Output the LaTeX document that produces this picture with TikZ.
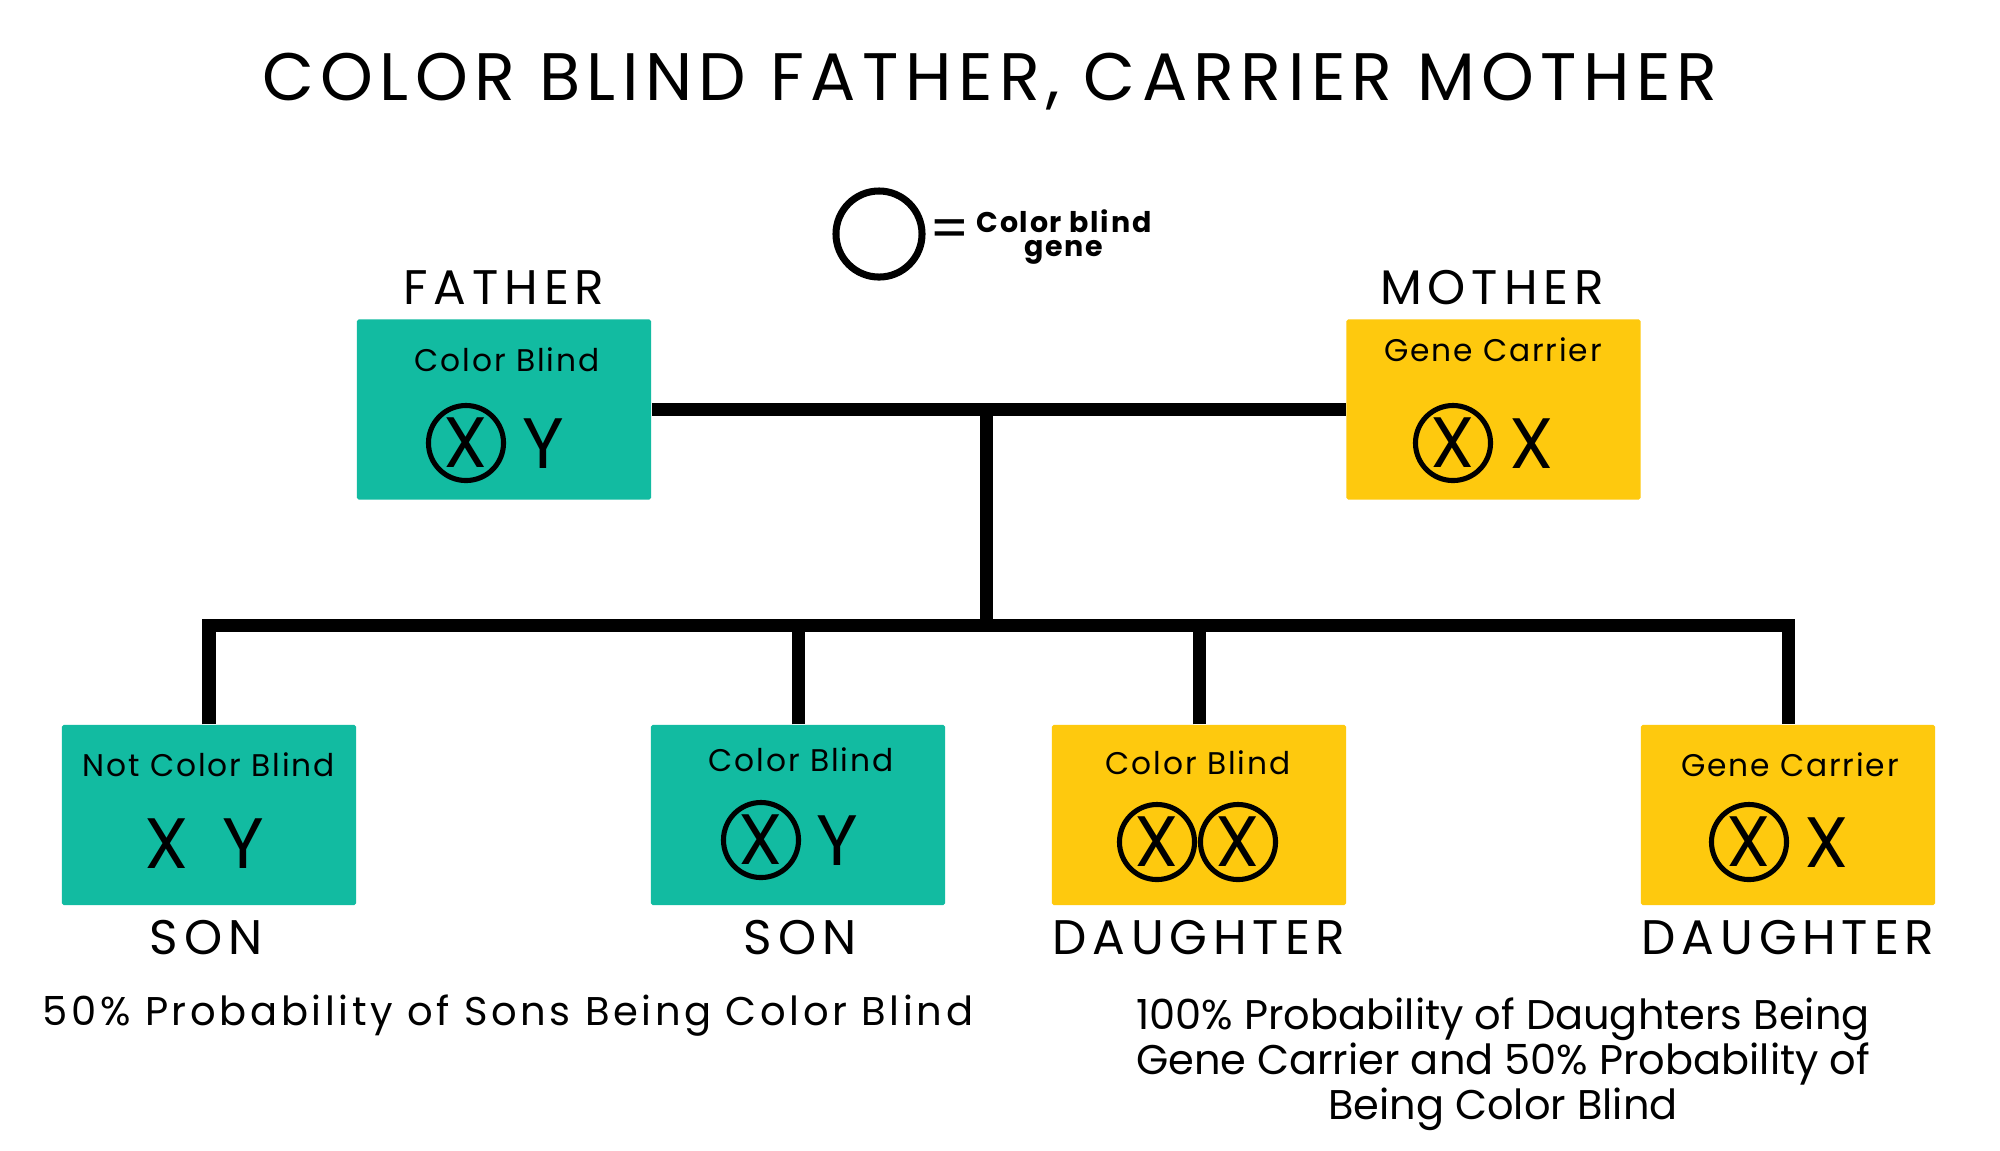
\documentclass[tikz,border=0pt]{standalone}
\usepackage{fontspec}
\setmainfont{Poppins}
\newfontfamily\spaced{Poppins}[LetterSpace=6]
\usetikzlibrary{positioning}

\definecolor{boxteal}{RGB}{18,187,161}
\definecolor{boxgold}{RGB}{254,201,14}

\newcommand\titlefont{\spaced\addfontfeature{LetterSpace=9.5}\fontsize{19.1}{23}\selectfont}
\newcommand\rolefont{\spaced\addfontfeature{LetterSpace=12}\fontsize{13.8}{16}\selectfont}
\newcommand\boxfont{\spaced\fontsize{8.9}{11}\selectfont}
\newcommand\genefont{\fontsize{20.3}{24}\selectfont}
\newcommand\notefont{\spaced\addfontfeature{LetterSpace=9}\fontsize{11.4}{14}\selectfont}

\begin{document}
\begin{tikzpicture}[x=0.01cm, y=-0.01cm,
	link/.style={line width=3.7pt},
	parent/.style={rectangle, rounded corners=0.5pt, minimum width=2.94cm, minimum height=1.8cm, inner sep=0pt},
	male/.style={parent, fill=boxteal},
	female/.style={parent, fill=boxgold},
	gene/.style={circle, draw, line width=1.45pt, minimum size=0.75cm, inner sep=0pt, font=\genefont},
	allele/.style={anchor=base, inner sep=0pt, font=\genefont},
	role/.style={anchor=base, inner sep=0pt, font=\rolefont},
	state/.style={anchor=base, inner sep=0pt, font=\boxfont},
	note/.style={anchor=base, inner sep=0pt, font=\notefont}]
	\fill[white] (0,0) rectangle (2000,1150);
	\useasboundingbox (0,0) rectangle (2000,1150);

	\node[anchor=base, inner sep=0pt, font=\titlefont] (title) at (990,100) {COLOR BLIND FATHER, CARRIER MOTHER};

	% legend
	\node[circle, draw, line width=2pt, minimum size=0.86cm] (key) at (879,234) {};
	\node[anchor=base, inner sep=0pt, font=\fontsize{16}{16}\selectfont] (eq) at (950,248) {=};
	\node[anchor=base, inner sep=0pt, align=center, font=\bfseries\spaced\fontsize{8.1}{6.6}\selectfont] (keytext) at (1064,256) {Color blind\\gene};

	% parents
	\node[role] (fl) at (504,304) {FATHER};
	\node[role] (ml) at (1492,304) {MOTHER};
	\node[male] (father) at (504,409.5) {};
	\node[female] (mother) at (1493.5,409.5) {};
	\node[state] (fs) at (507,371) {Color Blind};
	\node[state] (ms) at (1493,361) {Gene Carrier};
	\node[gene] (f1) at (466,443) {X};
	\node[allele] (f2) at (543,468) {Y};
	\node[gene] (m1) at (1453,443) {X};
	\node[allele] (m2) at (1532,468) {X};

	% children
	\node[male] (son1) at (209,815) {};
	\node[male] (son2) at (798,815) {};
	\node[female] (dau1) at (1199,815) {};
	\node[female] (dau2) at (1788,815) {};
	\node[state] (s1s) at (209,776) {Not Color Blind};
	\node[state] (s2s) at (801,771) {Color Blind};
	\node[state] (d1s) at (1198,774) {Color Blind};
	\node[state] (d2s) at (1790,776) {Gene Carrier};
	\node[allele] (s11) at (167,868) {X};
	\node[allele] (s12) at (243,868) {Y};
	\node[gene] (s21) at (761,840) {X};
	\node[allele] (s22) at (837,865) {Y};
	\node[gene] (d11) at (1157,842) {X};
	\node[gene] (d12) at (1238,842) {X};
	\node[gene] (d21) at (1749,842) {X};
	\node[allele] (d22) at (1827,867) {X};
	\node[role] (s1l) at (206,954) {SON};
	\node[role] (s2l) at (800,954) {SON};
	\node[role] (d1l) at (1199,954) {DAUGHTER};
	\node[role] (d2l) at (1788,954) {DAUGHTER};

	% notes
	\node[note] (sonnote) at (508,1025) {50\% Probability of Sons Being Color Blind};
	\node[anchor=base, inner sep=0pt, align=center, font=\fontsize{11.8}{12.8}\selectfont] (daunote) at (1503,1119) {100\% Probability of Daughters Being\\Gene Carrier and 50\% Probability of\\Being Color Blind};

	% lines
	\coordinate (hub) at (986,409.5);
	\coordinate (split) at (986,625);
	\draw[link] (father.east) -- (mother.west);
	\draw[link] (hub) -- (split);
	\draw[link] (son1.north) |- (split) -| (dau2.north);
	\draw[link] (son2.north) -- (son2.north |- split);
	\draw[link] (dau1.north) -- (dau1.north |- split);
\end{tikzpicture}
\end{document}
